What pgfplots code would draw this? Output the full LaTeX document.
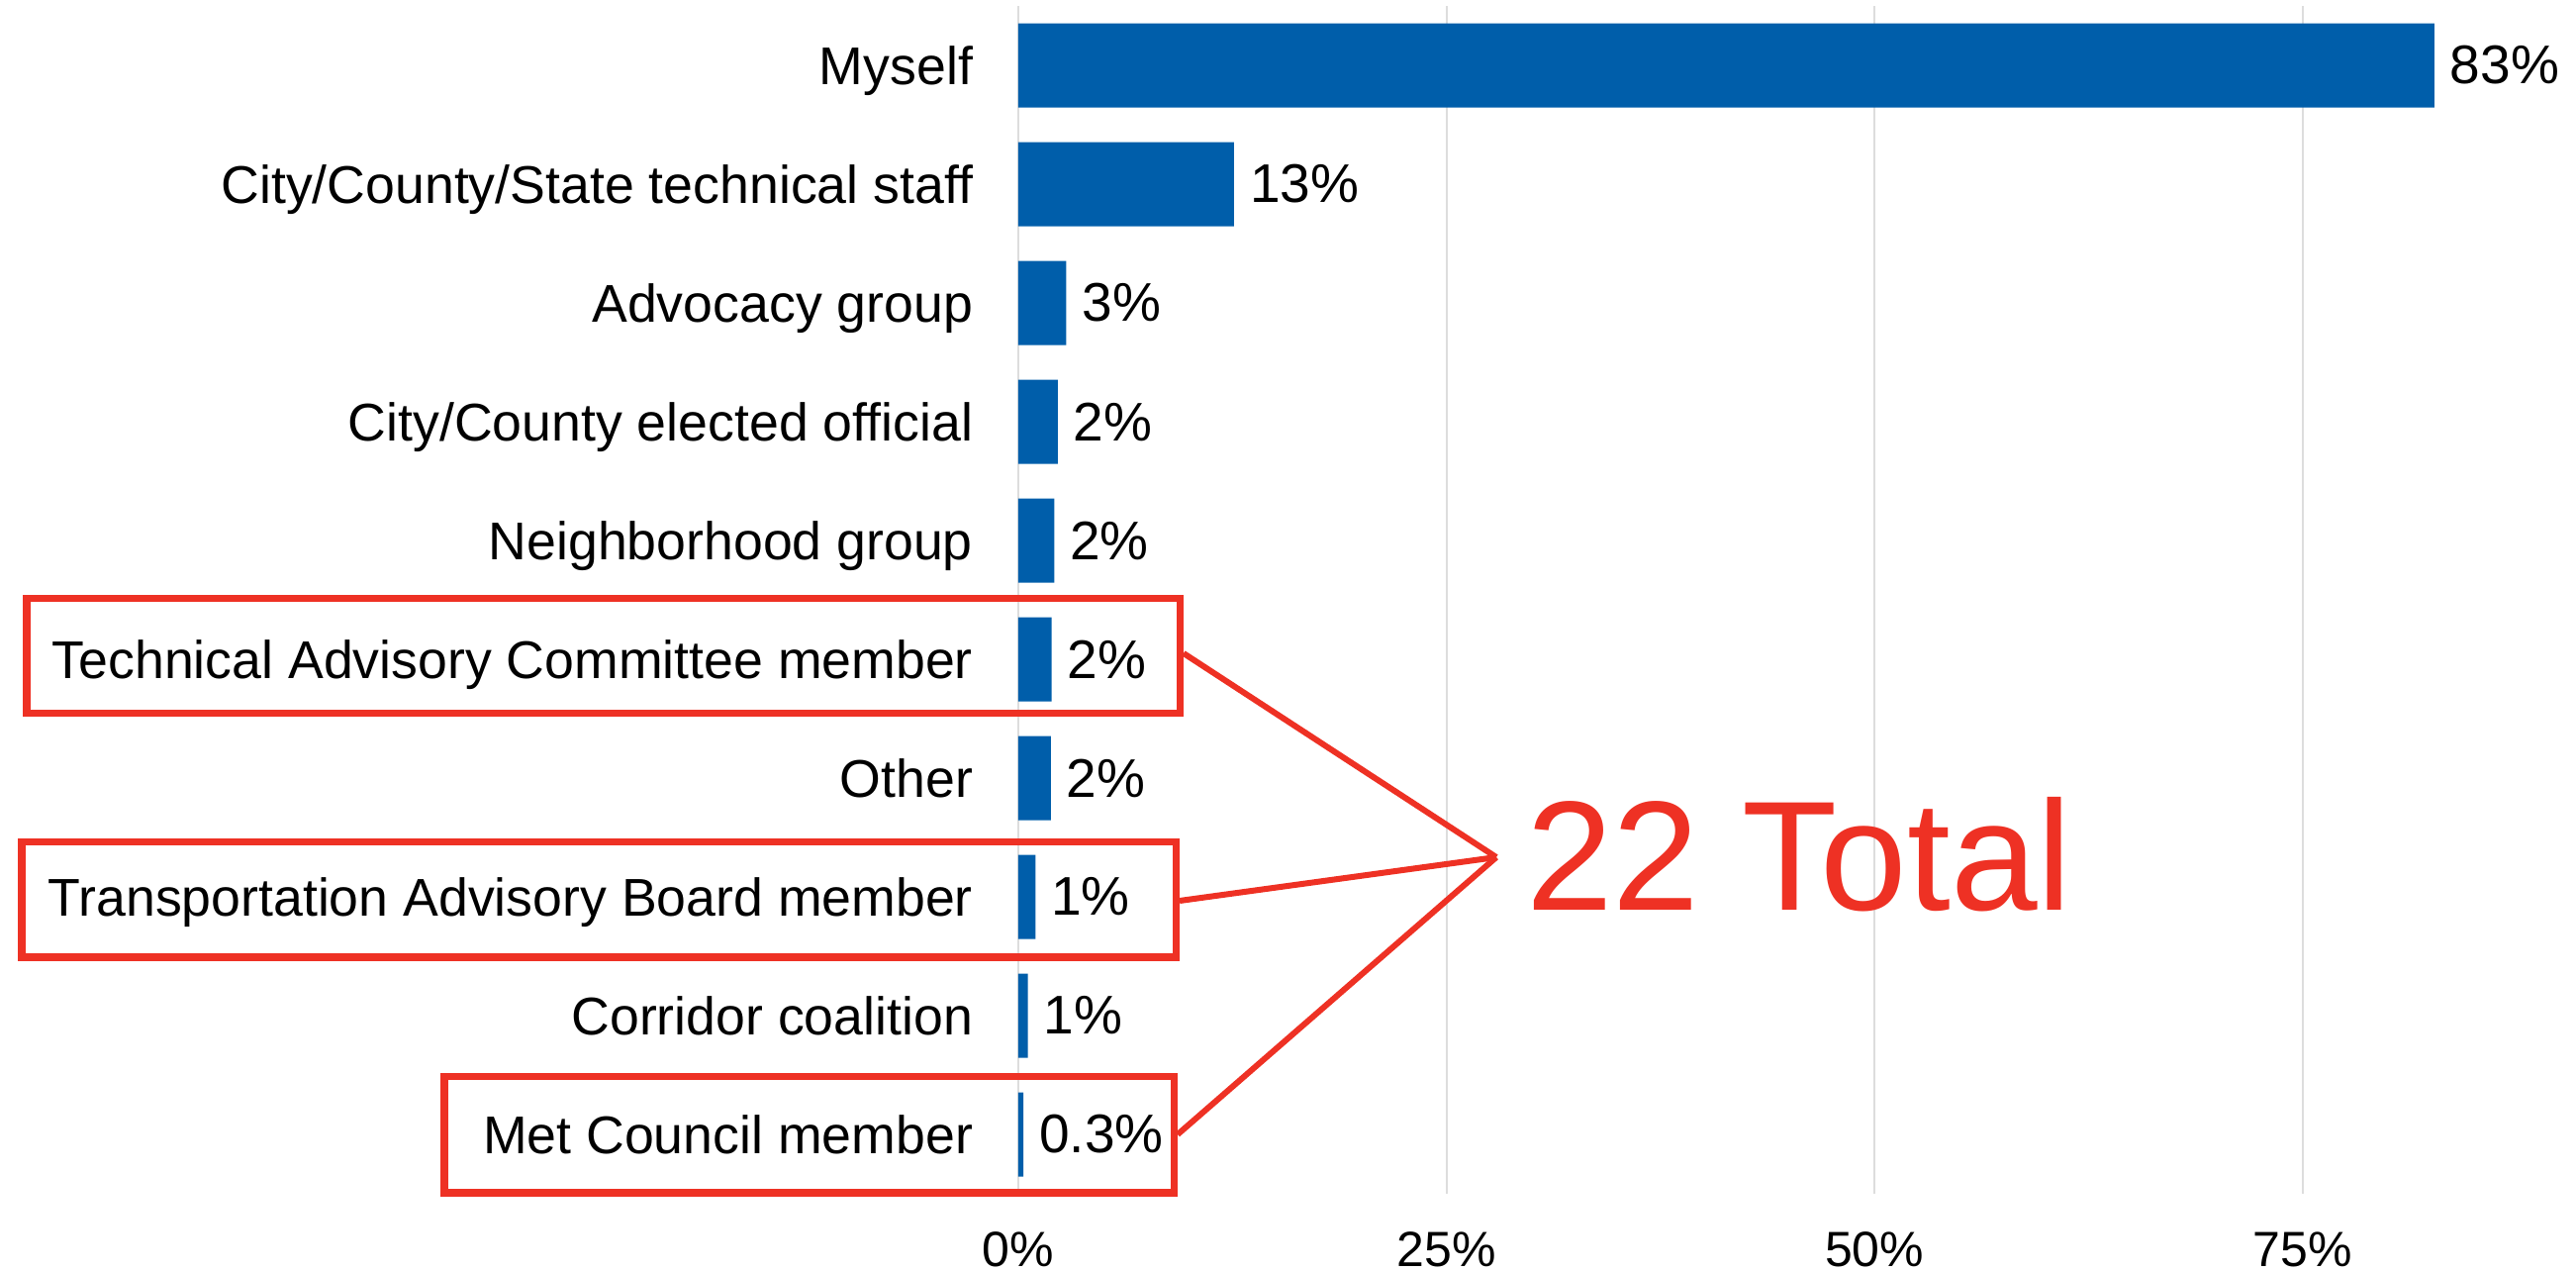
\documentclass[border=0pt]{standalone}
\usepackage{pgfplots}
\pgfplotsset{compat=1.18}
\usepackage{fontspec}
\setmainfont{Liberation Sans}
\definecolor{barblue}{HTML}{005EAA}
\definecolor{annred}{HTML}{EE3124}
\definecolor{gridgray}{HTML}{DDDDDD}
\begin{document}
\begin{tikzpicture}
\path[use as bounding box] (0,0) rectangle (520.6pt,-256.8pt);
\begin{axis}[
 at={(205.8pt,-1.2pt)}, anchor=north west,
 scale only axis, width=297.6pt, height=240pt,
 xbar, bar width=17pt,
 xmin=0, xmax=86, ymin=-0.5, ymax=9.5, y dir=reverse,
 axis line style={draw=none},
 major tick length=0pt,
 xtick={0,25,50,75}, xticklabels={0\%,25\%,50\%,75\%},
 ytick={0,...,9},
 yticklabels={Myself,City/County/State technical staff,Advocacy group,City/County elected official,Neighborhood group,Technical Advisory Committee member,Other,Transportation Advisory Board member,Corridor coalition,Met Council member},
 xmajorgrids, grid style={gridgray, line width=0.4pt},
 xticklabel style={font=\fontsize{10}{12}\selectfont, anchor=north, inner sep=0pt, yshift=-7.6pt},
 yticklabel style={font=\fontsize{10.73}{12}\selectfont, anchor=base east, inner sep=0pt, xshift=-9pt, yshift=-3.84pt},
 point meta=explicit symbolic,
 nodes near coords={\pgfplotspointmeta},
 every node near coord/.append style={anchor=west, font=\fontsize{11}{13}\selectfont, inner sep=3pt, text=black},
 clip=false,
]
\addplot[fill=barblue, draw=none] coordinates {
(82.7,0) [83\%]
(12.6,1) [13\%]
(2.8,2) [3\%]
(2.3,3) [2\%]
(2.1,4) [2\%]
(1.95,5) [2\%]
(1.9,6) [2\%]
(1.0,7) [1\%]
(0.55,8) [1\%]
(0.3,9) [0.3\%]
};
\end{axis}
\begin{scope}[annred, line width=1.5pt]
\draw (5.35pt,-120.9pt) rectangle (238.45pt,-144.06pt);
\draw (4.35pt,-170.15pt) rectangle (237.65pt,-193.45pt);
\draw (89.75pt,-217.55pt) rectangle (237.25pt,-241.05pt);
\end{scope}
\begin{scope}[annred, line width=1.2pt]
\draw (239.2pt,-132pt) -- (302.4pt,-173.2pt);
\draw (238.4pt,-182pt) -- (302.4pt,-173.2pt);
\draw (238pt,-229.2pt) -- (302.4pt,-173.2pt);
\end{scope}
\node[anchor=base west, inner sep=0pt, text=annred, font=\fontsize{31.5}{36}\selectfont] at (308.2pt,-184pt) {22 Total};
\end{tikzpicture}
\end{document}
